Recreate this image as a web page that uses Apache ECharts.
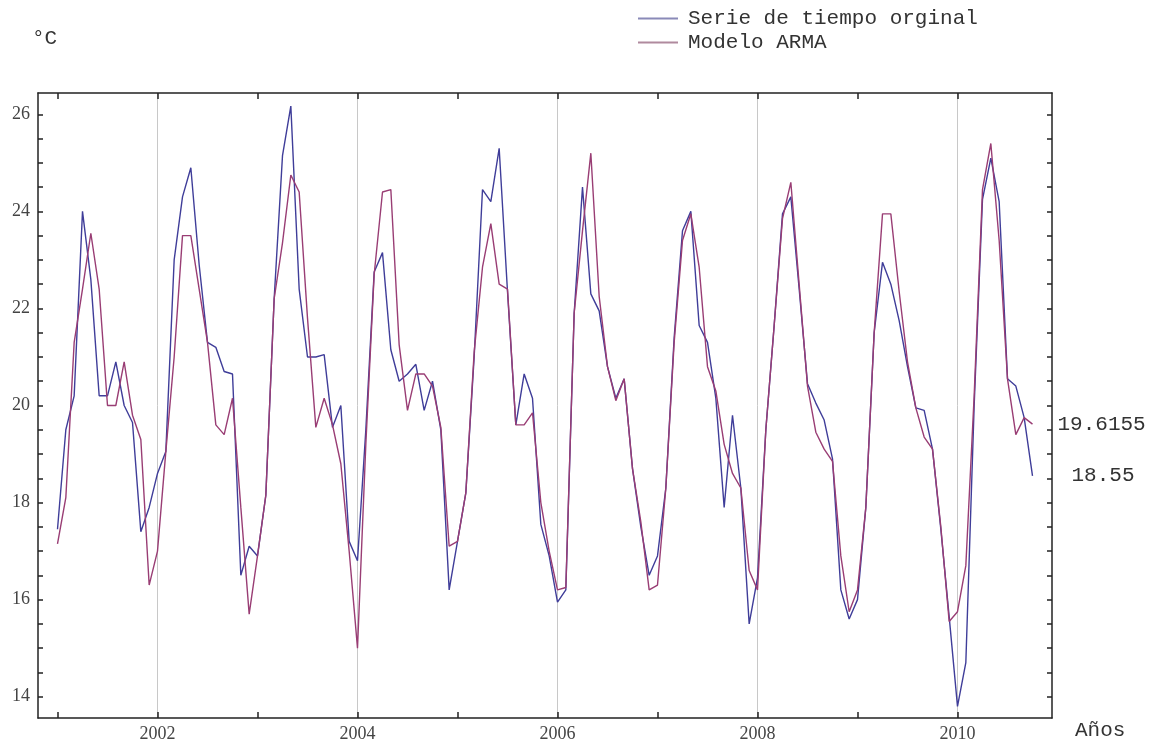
<!DOCTYPE html>
<html>
<head>
<meta charset="utf-8">
<script src="https://cdn.jsdelivr.net/npm/echarts@6/dist/echarts.min.js"></script>
<style>
  html, body { margin: 0; padding: 0; background: #fff; }
  #chart { width: 1170px; height: 746px; }
</style>
</head>
<body>
<div id="chart"></div>
<script>
// monthly mean temperature, Jan 2001 .. Oct 2010
const startYear = 2001;

const original = [
  17.45, 19.5, 20.2, 24.0, 22.6, 20.2, 20.2, 20.9, 20.0, 19.65, 17.4, 17.9,
  18.6, 19.05, 23.0, 24.3, 24.9, 22.9, 21.3, 21.2, 20.7, 20.65, 16.5, 17.1,
  16.9, 18.15, 22.2, 25.15, 26.17, 22.4, 21.0, 21.0, 21.05, 19.55, 20.0, 17.2,
  16.8, 19.5, 22.75, 23.15, 21.15, 20.5, 20.65, 20.85, 19.9, 20.5, 19.5, 16.2,
  17.2, 18.2, 21.0, 24.45, 24.2, 25.3, 22.35, 19.6, 20.65, 20.15, 17.55, 16.9,
  15.95, 16.2, 21.9, 24.5, 22.3, 21.95, 20.8, 20.15, 20.55, 18.7, 17.5, 16.5,
  16.9, 18.3, 21.4, 23.6, 24.0, 21.65, 21.3, 20.15, 17.9, 19.8, 18.3, 15.5,
  16.45, 19.5, 21.65, 23.95, 24.3, 22.4, 20.45, 20.05, 19.7, 18.9, 16.2, 15.6,
  16.0, 17.9, 21.5, 22.95, 22.5, 21.75, 20.8, 19.95, 19.9, 19.1, 17.45, 15.65,
  13.8, 14.7, 20.0, 24.25, 25.1, 24.2, 20.55, 20.4, 19.75, 18.55
];

const arma = [
  17.15, 18.1, 21.3, 22.4, 23.55, 22.4, 20.0, 20.0, 20.9, 19.8, 19.3, 16.3,
  17.0, 19.05, 21.0, 23.5, 23.5, 22.4, 21.3, 19.6, 19.4, 20.15, 17.9, 15.7,
  16.9, 18.15, 22.2, 23.35, 24.75, 24.4, 21.8, 19.55, 20.15, 19.6, 18.8, 17.0,
  15.0, 19.2, 22.7, 24.4, 24.45, 21.25, 19.9, 20.65, 20.65, 20.4, 19.55, 17.1,
  17.2, 18.2, 21.1, 22.85, 23.75, 22.5, 22.4, 19.6, 19.6, 19.85, 18.0, 17.0,
  16.2, 16.25, 21.9, 23.6, 25.2, 22.25, 20.8, 20.1, 20.55, 18.7, 17.6, 16.2,
  16.3, 18.3, 21.3, 23.4, 23.95, 22.85, 20.8, 20.3, 19.2, 18.6, 18.3, 16.6,
  16.2, 19.5, 21.65, 23.85, 24.6, 22.5, 20.4, 19.45, 19.1, 18.85, 16.9, 15.75,
  16.2, 17.9, 21.5, 23.95, 23.95, 22.35, 20.9, 19.95, 19.35, 19.1, 17.5, 15.55,
  15.75, 16.7, 20.2, 24.45, 25.4, 23.4, 20.55, 19.4, 19.75, 19.6155
];

const yearTicks = [2001, 2002, 2003, 2004, 2005, 2006, 2007, 2008, 2009, 2010];
const yearLabels = [2002, 2004, 2006, 2008, 2010];
const tempTicks = [14, 14.5, 15, 15.5, 16, 16.5, 17, 17.5, 18, 18.5, 19, 19.5, 20,
  20.5, 21, 21.5, 22, 22.5, 23, 23.5, 24, 24.5, 25, 25.5, 26];
const tempLabels = [14, 16, 18, 20, 22, 24, 26];

const serieName = 'Serie de tiempo orginal';
const armaName = 'Modelo ARMA';

function toPoints(values) {
  return values.map((v, i) => [startYear + i / 12, v]);
}

const chart = echarts.init(document.getElementById('chart'));

const mono = 'Liberation Mono';
const serif = 'Liberation Serif';
const axisColor = '#222';

const xBase = {
  type: 'value',
  min: 2000.805,
  max: 2010.945,
  axisLine: { show: true, onZero: false, lineStyle: { color: axisColor, width: 1.5 } },
  axisTick: { show: true, inside: true, length: 6, customValues: yearTicks, lineStyle: { color: axisColor, width: 1.5 } },
  splitLine: { show: false }
};
const yBase = {
  type: 'value',
  min: 13.56,
  max: 26.44,
  axisLine: { show: true, onZero: false, lineStyle: { color: axisColor, width: 1.5 } },
  axisTick: { show: true, inside: true, length: 5, customValues: tempTicks, lineStyle: { color: axisColor, width: 1.5 } },
  splitLine: { show: false }
};

const option = {
  backgroundColor: '#fff',
  animation: false,
  grid: { left: 38, right: 118, top: 93, bottom: 28 },
  legend: {
    orient: 'vertical',
    left: 633,
    top: 3,
    icon: 'rect',
    itemWidth: 40,
    itemHeight: 2,
    itemGap: 3,
    textStyle: { fontFamily: mono, fontSize: 21, color: '#333', padding: [0, 0, 0, 5] },
    data: [
      { name: serieName, itemStyle: { color: '#8a8ab8' } },
      { name: armaName, itemStyle: { color: '#b08a9e' } }
    ]
  },
  xAxis: [
    Object.assign({}, xBase, {
      position: 'bottom',
      name: 'Años',
      nameLocation: 'end',
      nameGap: 23,
      nameTextStyle: { fontFamily: mono, fontSize: 21, color: '#333', verticalAlign: 'top', padding: [2, 0, 0, 0] },
      axisLabel: { customValues: yearLabels, formatter: v => String(v), fontFamily: serif, fontSize: 18, color: '#444', margin: 7 }
    }),
    Object.assign({}, xBase, { position: 'top', axisLabel: { show: false } }),
    {
      type: 'value',
      min: 2000.805,
      max: 2010.945,
      position: 'bottom',
      axisLine: { show: false },
      axisLabel: { show: false },
      axisTick: { show: false, customValues: yearLabels },
      splitLine: { show: true, lineStyle: { color: '#c8c8c8', width: 1 } }
    }
  ],
  yAxis: [
    Object.assign({}, yBase, {
      position: 'left',
      name: '°C',
      nameLocation: 'end',
      nameGap: 44,
      nameTextStyle: { fontFamily: mono, fontSize: 21, color: '#333', align: 'left', padding: [0, 0, 0, -6] },
      axisLabel: { customValues: tempLabels, fontFamily: serif, fontSize: 18, color: '#444', margin: 8 }
    }),
    Object.assign({}, yBase, { position: 'right', axisLabel: { show: false } })
  ],
  series: [
    {
      name: serieName,
      type: 'line',
      xAxisIndex: 0,
      yAxisIndex: 0,
      data: toPoints(original),
      showSymbol: false,
      symbol: 'none',
      lineStyle: { color: '#3f3d99', width: 1.4 },
      itemStyle: { color: '#3f3d99' },
      z: 3,
      endLabel: {
        show: true,
        distance: 39,
        formatter: p => String(p.value[1]),
        fontFamily: mono,
        fontSize: 21,
        color: '#333'
      }
    },
    {
      name: armaName,
      type: 'line',
      xAxisIndex: 0,
      yAxisIndex: 0,
      data: toPoints(arma),
      showSymbol: false,
      symbol: 'none',
      lineStyle: { color: '#993d74', width: 1.4 },
      itemStyle: { color: '#993d74' },
      z: 3,
      endLabel: {
        show: true,
        distance: 25,
        formatter: p => String(p.value[1]),
        fontFamily: mono,
        fontSize: 21,
        color: '#333'
      }
    }
  ]
};

chart.setOption(option);
</script>
</body>
</html>
